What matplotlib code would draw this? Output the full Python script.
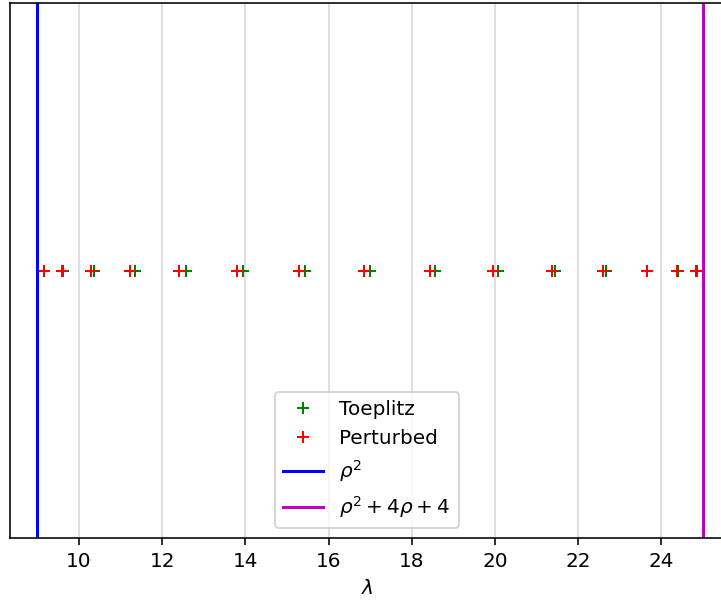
import matplotlib

matplotlib.use("Agg")
import matplotlib.pyplot as plt
import numpy as np

# eigenvalues
toeplitz = [9.15, 9.61, 10.35, 11.35, 12.56, 13.94, 15.44, 17.0,
            18.56, 20.06, 21.44, 22.66, 23.65, 24.39, 24.85]
perturbed = [9.15, 9.58, 10.28, 11.23, 12.41, 13.80, 15.29, 16.86,
             18.44, 19.96, 21.36, 22.60, 23.65, 24.38, 24.83]
lower = 9.0   # rho^2
upper = 25.0  # rho^2 + 4 rho + 4

fig = plt.figure(figsize=(721 / 144, 601 / 144), dpi=144)
ax = fig.add_axes([10 / 721, 63 / 601, 1.004 - 10 / 721, (601 - 3 - 63) / 601])

ax.plot(toeplitz, np.zeros(len(toeplitz)), "g+", label="Toeplitz")
ax.plot(perturbed, np.zeros(len(perturbed)), "r+", label="Perturbed")
ax.axvline(lower, color="b", label=r"$\rho^2$")
ax.axvline(upper, color="m", label=r"$\rho^2 + 4\rho + 4$")

ax.set_xlim(8.34, 25.5)
ax.set_ylim(-1, 1)
ax.set_yticks([])
ax.set_xticks(range(10, 26, 2))
ax.grid(axis="x", alpha=0.5)
ax.set_xlabel(r"$\lambda$")
ax.legend(loc="lower center")

fig.savefig("out.png", dpi=144)
